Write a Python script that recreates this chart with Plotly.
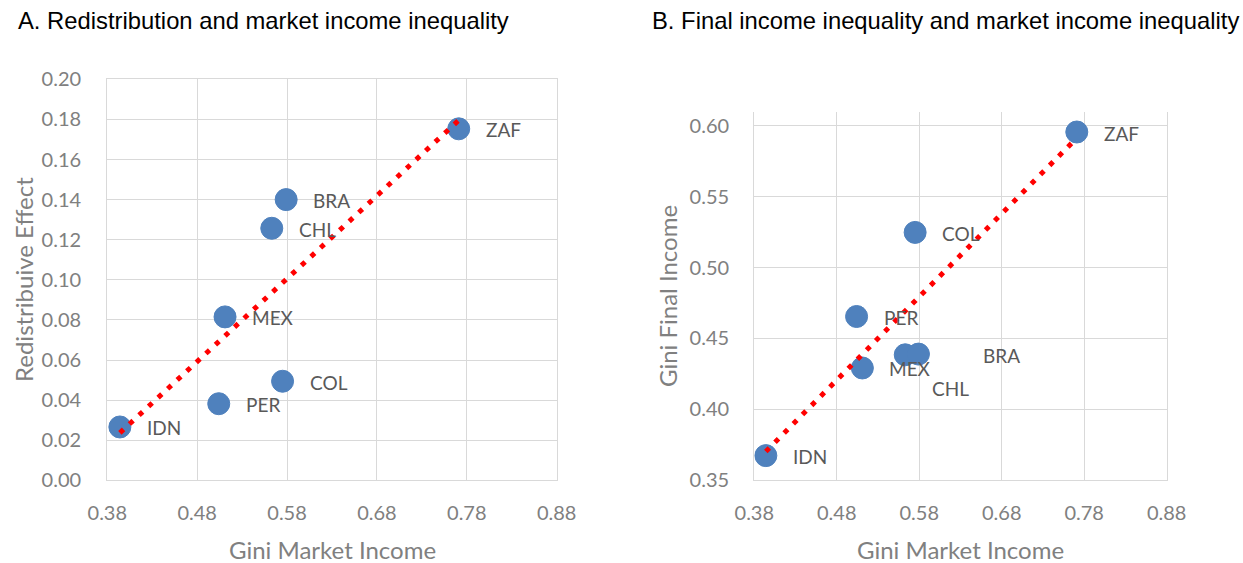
import numpy as np
import plotly.graph_objects as go

# ---- data ----
countries = ["IDN", "PER", "MEX", "CHL", "COL", "BRA", "ZAF"]
gini_market = [0.394, 0.504, 0.511, 0.563, 0.575, 0.579, 0.771]
redistributive_effect = [0.0266, 0.0382, 0.0815, 0.1257, 0.0494, 0.1400, 0.1753]
gini_final = [0.3674, 0.4655, 0.4292, 0.4385, 0.5248, 0.4390, 0.5956]

x_ticks = [0.38, 0.48, 0.58, 0.68, 0.78, 0.88]
y_ticks_a = [0.00, 0.02, 0.04, 0.06, 0.08, 0.10, 0.12, 0.14, 0.16, 0.18, 0.20]
y_ticks_b = [0.35, 0.40, 0.45, 0.50, 0.55, 0.60]

# label offsets (pixels) for panel B exceptions
label_shift_b = {"BRA": (65, 0), "CHL": (27, -33)}

W, H = 1243, 563
BLUE = "#4f81bd"
GRID = "#d9d9d9"
TICK = "#808080"
LABEL = "#595959"
FONT = "Lato"


def px_x(p):
    return p / W


def px_y(p):
    return 1 - p / H


fig = go.Figure()


def trend(xs, ys):
    xs = np.asarray(xs)
    ys = np.asarray(ys)
    m, b = np.polyfit(xs, ys, 1)
    tx = np.array([xs.min(), xs.max()])
    return tx, m * tx + b


for xa, ya, yvals in [("x", "y", redistributive_effect), ("x2", "y2", gini_final)]:
    fig.add_trace(go.Scatter(
        x=gini_market, y=yvals, mode="markers", xaxis=xa, yaxis=ya,
        marker=dict(size=22, color=BLUE, line=dict(width=1, color=BLUE)),
        showlegend=False, hoverinfo="skip"))
    tx, ty = trend(gini_market, yvals)
    fig.add_trace(go.Scatter(
        x=tx, y=ty, mode="lines", xaxis=xa, yaxis=ya,
        line=dict(color="#ff0000", width=5, dash="5px,8px"),
        showlegend=False, hoverinfo="skip"))

annotations = []
for c, xv, yv in zip(countries, gini_market, redistributive_effect):
    annotations.append(dict(x=xv, y=yv, xref="x", yref="y", text=c, showarrow=False,
                            xanchor="left", yanchor="middle", xshift=25, yshift=-1,
                            font=dict(family=FONT, size=19, color=LABEL)))
for c, xv, yv in zip(countries, gini_market, gini_final):
    dx, dy = label_shift_b.get(c, (27, 0))
    annotations.append(dict(x=xv, y=yv, xref="x2", yref="y2", text=c, showarrow=False,
                            xanchor="left", yanchor="middle", xshift=dx - 2, yshift=dy - 1,
                            font=dict(family=FONT, size=19, color=LABEL)))

title_font = dict(family="Arial, Liberation Sans", size=23.8, color="#000000")
annotations += [
    dict(x=px_x(16), y=px_y(20.5), xref="paper", yref="paper", xanchor="left", yanchor="middle",
         text="A. Redistribution and market income inequality", showarrow=False, font=title_font),
    dict(x=px_x(650), y=px_y(20.5), xref="paper", yref="paper", xanchor="left", yanchor="middle",
         text="B. Final income inequality and market income inequality", showarrow=False, font=title_font),
]

axis_title_font = dict(family=FONT, size=24, color=TICK)
annotations += [
    dict(x=px_x(333), y=px_y(549), xref="paper", yref="paper", xanchor="center", yanchor="middle",
         text="Gini Market Income", showarrow=False, font=axis_title_font),
    dict(x=px_x(960.5), y=px_y(549), xref="paper", yref="paper", xanchor="center", yanchor="middle",
         text="Gini Market Income", showarrow=False, font=axis_title_font),
    dict(x=px_x(23), y=px_y(280), xref="paper", yref="paper", xanchor="center", yanchor="middle",
         text="Redistribuive Effect", textangle=-90, showarrow=False, font=axis_title_font),
    dict(x=px_x(667), y=px_y(296), xref="paper", yref="paper", xanchor="center", yanchor="middle",
         text="Gini Final Income", textangle=-90, showarrow=False, font=axis_title_font),
]

tickfont = dict(family=FONT, size=20, color=TICK)
common = dict(showgrid=True, gridcolor=GRID, gridwidth=1.3, showline=True, linecolor=GRID,
              linewidth=1.3, zeroline=False, ticks="", tickfont=tickfont, tickformat=".2f",
              automargin=False, fixedrange=True)

fig.update_layout(
    width=W, height=H,
    margin=dict(l=0, r=0, t=0, b=0),
    paper_bgcolor="white", plot_bgcolor="white",
    xaxis=dict(**common, domain=[px_x(107.3), px_x(556.7)], range=[0.38, 0.88],
               tickvals=x_ticks, mirror=True, anchor="y", ticklabelstandoff=15),
    yaxis=dict(**common, domain=[px_y(480.3), px_y(79.3)], range=[0.0, 0.20],
               tickvals=y_ticks_a, mirror=True, anchor="x", ticklabelstandoff=21),
    xaxis2=dict(**common, domain=[px_x(754.3), px_x(1166.7)], range=[0.38, 0.88],
                tickvals=x_ticks, mirror=False, anchor="y2", ticklabelstandoff=15),
    yaxis2=dict(**common, domain=[px_y(480.3), px_y(112)], range=[0.35, 0.6097],
                tickvals=y_ticks_b, mirror=True, anchor="x2", ticklabelstandoff=20),
    annotations=annotations,
)

fig.write_html(
    "out.html",
    config={"displayModeBar": False},
    post_script="document.body.style.margin='0';document.body.style.overflow='hidden';",
)
